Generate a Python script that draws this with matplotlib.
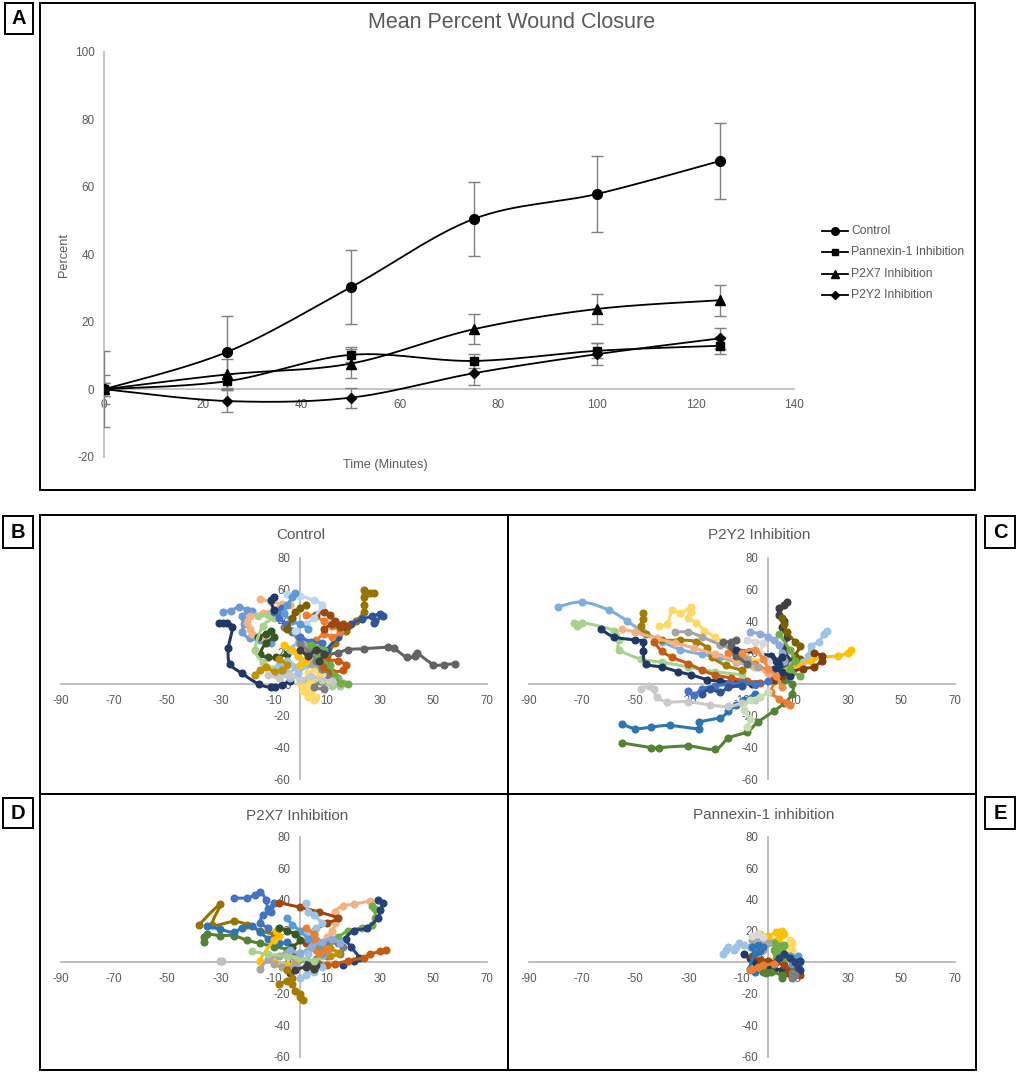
import numpy as np
import matplotlib
matplotlib.use("Agg")
import matplotlib.pyplot as plt
from matplotlib.patches import Rectangle

plt.rcParams['font.family'] = ['Liberation Sans', 'DejaVu Sans']
plt.rcParams['axes.unicode_minus'] = False

# ---------------- DATA: panel A ----------------
time_min = [0, 25, 50, 75, 100, 125]
series_names = ["Control", "Pannexin-1 Inhibition", "P2X7 Inhibition", "P2Y2 Inhibition"]
control_mean = [0, 11.1, 30.2, 50.5, 57.9, 67.7]
control_err = [11.2, 10.6, 11.0, 11.0, 11.2, 11.3]
pannexin_mean = [0, 2.4, 10.2, 8.4, 11.4, 12.9]
pannexin_err = [2.0, 2.2, 2.2, 2.0, 2.2, 2.5]
p2x7_mean = [0, 4.4, 7.6, 17.8, 23.8, 26.4]
p2x7_err = [4.3, 4.7, 4.3, 4.4, 4.5, 4.6]
p2y2_mean = [0, -3.5, -2.5, 4.75, 10.4, 15.1]
p2y2_err = [2.0, 3.2, 3.0, 3.5, 3.2, 3.2]
a_xticks = [0, 20, 40, 60, 80, 100, 120, 140]
a_yticks = [-20, 0, 20, 40, 60, 80, 100]

# ---------------- DATA: panels B-E (cell tracks, x/y points) ----------------
track_xticks = [-90, -70, -50, -30, -10, 10, 30, 50, 70]
track_yticks = [-60, -40, -20, 0, 20, 40, 60, 80]
panel_titles = ["Control", "P2Y2 Inhibition", "P2X7 Inhibition", "Pannexin-1 inhibition"]

control_tracks = [
    [(-30.5,39),(-29,39),(-27.5,38.5),(-25.5,36),(-27,23),(-26.5,13),(-22,7),(-15.5,0),(-11,-2),(-9.5,-2),(-7,-0.5),(-4,2)],
    [(3,26),(6,21),(10,19),(14,20),(18,22),(24,22.5),(33,23.5),(35,23),(40,17),(43,18),(44,19.5),(50,12.5),(54,12.5),(58,13)],
    [(7,10),(10,18),(13,26),(17,34),(21,40),(24,46),(24,50),(24,55),(24,59.5),(26,58),(27.5,58)],
    [(10,22),(14,30),(19,38),(23,41),(27,43),(30,44.5),(31,43),(28,40),(27.5,38.5)],
    [(-29,46),(-26,46.5),(-23,49),(-20,47),(-18,46.5),(-22,43),(-21,38),(-22,33),(-19,29),(-15,28),(-11,26)],
    [(-15,54),(-11,52),(-7,51),(-4,50),(-8,48),(-14,45),(-19,43),(-20,39),(-19,35),(-18,32),(-14,30)],
    [(2,44),(5,43),(9,40),(12,37),(15,33),(12,30),(9,32),(6,28),(3,26)],
    [(6,44),(9,46),(11,44),(13,40),(16,38),(18,37),(15,36),(12,38),(9,35)],
    [(-16,30),(-13,32),(-11,34),(-10,30),(-13,26),(-15,19),(-12,17),(-9,17),(-5,19)],
    [(-16,43),(-12,44),(-10,42),(-14,37),(-17,22),(-14,14),(-10,10),(-5,7),(2,3),(8,1),(12,-1),(15,-1)],
    [(0,1),(1,-4),(3,-8),(5,-10),(6,-8),(4,-5),(2,-2),(4,2),(7,5),(9,8),(6,10),(3,7)],
    [(-8,12),(-5,15),(-2,11),(-5,7),(-8,8),(-4,4),(-1,7),(2,12),(-1,18),(-4,22),(-1,26)],
    [(0,30),(3,25),(6,18),(4,13),(8,10),(11,7),(14,4),(16,1)],
    [(-6,36),(-3,33),(0,26),(3,21),(6,15),(8,10),(11,6),(8,2),(5,-2),(9,-3)],
    [(-17,6),(-15,9),(-13,11),(-10,8),(-7,9),(-5,12),(-8,16)],
    [(-10,46),(-7,48),(-8,42),(-5,38),(-3,34),(0,30),(4,27),(8,26)],
    [(-5,57),(0,56),(5,53),(8,50),(5,42),(2,38),(-2,34)],
    [(10,15),(14,15),(17,12),(16,9),(12,8),(9,11)],
    [(4,25),(9,22),(7,18),(11,12),(13,5),(15,1),(18,0)],
    [(-2,58),(-3,55),(-5,50),(-6,45),(-3,40),(0,38),(3,35)],
    [(-6,25),(-3,22),(-1,18),(2,15),(0,12)],
    [(-10,47),(-11,53),(-10,55)],
    [(-12,6),(-8,4),(-4,6),(0,3),(4,5),(8,3),(12,2)],
    [(-5,35),(-3,42),(-2,46),(0,48),(2,50)],
    [(0,22),(3,18),(6,22),(9,19),(7,15)],
]

p2y2_tracks = [
    [(-79,49),(-70,52),(-60,47),(-53,40),(-47,33),(-40,27),(-33,22),(-25,19),(-18,17),(-12,14),(-6,12)],
    [(-73,39),(-72,37),(-70,39),(-58,34),(-56,28),(-56,22),(-48,16),(-40,14),(-30,11),(-20,8),(-10,6)],
    [(-63,35),(-58,30),(-50,28),(-47,27),(-47,21),(-46,13),(-40,11),(-34,8),(-29,6),(-23,3),(-18,2),(-12,1),(-6,0)],
    [(-55,-25),(-50,-28),(-44,-27),(-37,-26),(-26,-28),(-26,-24),(-18,-21),(-15,-17),(-12,-13),(-9,-10),(-5,-6)],
    [(-55,-37),(-44,-40),(-41,-40),(-30,-39),(-20,-41),(-15,-34),(-8,-30),(-4,-24),(2,-17),(6,-12),(9,-6),(9,0),(6,3)],
    [(-41,37),(-38,38),(-36,47),(-33,45),(-29,49),(-29,46),(-30,42),(-27,39),(-24,34),(-20,30),(-15,25),(-10,20),(-5,15)],
    [(-47,45),(-47,41),(-48,37),(-46,32),(-40,28),(-33,28),(-27,27),(-23,23),(-21,17),(-16,12),(-10,9)],
    [(-48,-3),(-45,-1),(-43,-3),(-42,-8),(-38,-11),(-30,-11),(-22,-13),(-15,-14),(-10,-12),(-5,-10)],
    [(-15,20),(-10,17),(-5,13),(-1,9),(2,2),(1,-5),(4,-9),(7,-12),(8,-13)],
    [(-55,35),(-50,33),(-42,29),(-35,26),(-28,23),(-20,19),(-12,15),(-5,11),(0,7)],
    [(-43,27),(-40,21),(-36,17),(-30,13),(-25,9),(-20,6),(-14,4),(-8,2),(-3,1)],
    [(7,52),(6,50),(4,48),(4,44),(6,40),(5,36),(7,30),(6,22),(8,15),(6,10)],
    [(5,42),(6,38),(7,33),(10,27),(12,24),(10,18),(12,16),(8,12),(5,9)],
    [(22,34),(21,32),(19,27),(16,24),(15,18),(13,14),(9,12),(5,8)],
    [(31,22),(30,20),(26,18),(20,17),(16,15),(11,12),(6,8)],
    [(17,20),(20,18),(20,15),(17,11),(13,10),(9,8),(5,5),(2,3)],
    [(-35,33),(-30,33),(-25,30),(-18,25),(-12,21),(-8,16),(-4,11)],
    [(-30,-4),(-28,-7),(-25,-3),(-20,-1),(-15,0),(-10,1),(-5,0),(0,2)],
    [(-17,27),(-14,27),(-12,28),(-14,24),(-12,18),(-8,13)],
    [(-7,33),(-3,32),(0,30),(2,28),(4,25),(5,20),(6,15)],
    [(-12,22),(1,18),(3,15),(5,17),(4,12),(2,10),(5,8),(8,5)],
    [(-8,28),(-5,27),(-2,26),(-3,20),(0,15)],
    [(-8,-27),(-7,-22),(-9,-16),(-7,-10),(-3,-8),(0,-5)],
    [(-25,-6),(-22,-3),(-18,-5),(-15,-2),(-10,-1)],
    [(4,32),(8,22),(10,15),(8,10),(12,5)],
    [(-10,20),(-5,22),(-2,16),(0,10),(3,5),(5,-2)],
]

p2x7_tracks = [
    [(-38,24),(-30,37),(-33,24),(-25,26),(-20,24),(-15,20),(-10,18)],
    [(-25,41),(-20,41),(-17,43),(-15,45),(-13,40),(-12,34),(-10,38),(-11,32),(-14,30),(-15,25),(-12,22)],
    [(-36,13),(-36,16),(-35,18),(-30,17),(-25,17),(-20,14),(-15,12),(-10,10),(-5,8),(0,2)],
    [(-35,23),(-30,21),(-25,19),(-22,22),(-18,23),(-15,19),(-12,15),(-8,12),(-5,13)],
    [(26,39),(20,37),(16,36),(13,32),(13,25),(12,20),(10,16),(8,12),(5,9)],
    [(27,36),(28,34),(28,28),(27,24),(23,22),(18,20),(14,16),(10,12),(6,9)],
    [(29,40),(31,38),(30,33),(29,28),(25,22),(20,20),(17,15),(19,10),(22,3),(20,1),(16,-2)],
    [(32,8),(30,7),(26,5),(24,3),(18,1),(13,-1),(10,-2),(7,-1)],
    [(-8,38),(0,35),(7,32),(14,28),(10,25),(5,20),(3,15),(2,12)],
    [(2,38),(3,32),(5,30),(8,25),(6,22),(3,18),(5,12),(3,5),(4,-2),(2,-8),(0,-10),(5,-6),(8,-3)],
    [(-9,20),(-8,17),(-10,14),(-15,1),(-10,0),(-5,-2),(-2,0)],
    [(-15,-4),(-12,2),(-8,4),(-5,6),(-2,-2),(-7,-3),(-10,-1)],
    [(10,12),(14,12),(16,10),(15,5),(10,4),(6,2),(3,0)],
    [(-4,-7),(-2,-5),(2,-3),(5,-4),(6,-2),(3,-1)],
    [(8,10),(11,9),(14,6),(11,4),(8,5),(6,8)],
    [(-30,1),(-29.5,1)],
    [(-18,7),(-12,5),(-5,4),(0,3),(5,1),(8,4),(10,8)],
    [(-5,28),(-3,24),(0,20),(3,15),(7,12),(8,5)],
    [(2,22),(5,18),(6,14),(4,10),(7,6),(10,8)],
    [(-8,22),(-5,20),(-2,18),(0,14),(-3,10)],
    [(-5,-5),(-3,-10),(-8,-14),(-5,-12),(-3,-14),(-2,-18),(0,-20),(1,-24),(0,-22)],
    [(-4,8),(0,6),(4,10),(8,13),(12,15),(15,12)],
]

pannexin_tracks = [
    [(-17,5),(-16,8),(-15,10),(-13,8),(-12,10),(-11,12),(-9,11),(-7,10),(-5,8)],
    [(-3,18),(0,17),(3,19),(5,20),(6,18),(4,15),(0,14),(-2,12)],
    [(8,14),(9,12),(8,10),(9,8),(8,5),(7,3)],
    [(2,12),(6,11),(5,8),(4,5),(6,3),(3,2),(2,8),(4,10)],
    [(-9,5),(-7,3),(-5,0),(-3,-2),(0,-3),(2,-4),(5,-5),(8,-6),(10,-7)],
    [(-6,4),(-3,2),(0,1),(3,0),(6,-2),(8,-4),(10,-6),(12,-8),(9,-9),(7,-7)],
    [(10,2),(12,0),(11,-2),(9,-1),(10,3),(8,4),(11,4)],
    [(-3,-3),(-2,-6),(-1,-7),(1,-6),(-2,-5),(5,-8),(5,-10)],
    [(-6,14),(-4,16),(-2,15),(0,12),(-2,8),(-4,6)],
    [(-6,10),(-4,11),(-2,10),(-3,7),(-5,6),(-7,-4),(-5,-6)],
    [(-6,-4),(-4,-3),(-7,-5),(-2,-2),(2,-1)],
    [(10,0),(12,1),(11,-3),(12,-5),(8,3),(6,5),(4,3)],
    [(-6,17),(-4,18),(-2,16)],
    [(9,-10),(10,-8),(9,-7)],
]

# ---------------- STYLE ----------------
txt = "#595959"
axis_gray = "#BFBFBF"
control_colors = ["#203864", "#636363", "#997300", "#2F5597", "#6E9BD8", "#F4B183", "#ED7D31",
                  "#9E480E", "#385723", "#A9D18E", "#FFD966", "#9DC3E6", "#A5A5A5", "#7F7F7F",
                  "#BF9000", "#4472C4", "#BDD7EE", "#C55A11", "#70AD47", "#5B9BD5", "#FFC000",
                  "#1F3864", "#C9C9C9", "#7F6000", "#404040"]
p2y2_colors = ["#7CAFDD", "#A9D18E", "#203864", "#2E75B6", "#548235", "#FFD966", "#A57C00",
               "#C9C9C9", "#ED7D31", "#F4B183", "#C55A11", "#404040", "#7F6000", "#9DC3E6",
               "#FFC000", "#843C0C", "#A5A5A5", "#4472C4", "#636363", "#8FAADC", "#1F3864",
               "#D9D9D9", "#C5E0B4", "#2F5597", "#70AD47", "#F08C45"]
p2x7_colors = ["#997300", "#4472C4", "#548235", "#2E75B6", "#F4B183", "#70AD47", "#264478",
               "#C55A11", "#9E480E", "#9DC3E6", "#FFC000", "#A5A5A5", "#7F7F7F", "#404040",
               "#BF9000", "#BFBFBF", "#A9D18E", "#5B9BD5", "#ED7D31", "#385723", "#A57C00",
               "#8FAADC"]
pannexin_colors = ["#9DC3E6", "#FFC000", "#FFD966", "#70AD47", "#203864", "#9E480E", "#5B9BD5",
                   "#548235", "#A5A5A5", "#2E75B6", "#ED7D31", "#264478", "#D9D9D9", "#7F7F7F"]

W, H = 1017, 1073
fig = plt.figure(figsize=(W / 100, H / 100), dpi=100)


def px_axes(x0, y0, x1, y1):
    return fig.add_axes([x0 / W, 1 - y1 / H, (x1 - x0) / W, (y1 - y0) / H])


def smooth(xs, ys, n=14):
    P = np.column_stack([xs, ys]).astype(float)
    if len(P) < 3:
        return P[:, 0], P[:, 1]
    Pm = np.vstack([P[0], P, P[-1]])
    out = []
    t = np.linspace(0, 1, n, endpoint=False)[:, None]
    for i in range(len(P) - 1):
        p0, p1, p2, p3 = Pm[i], Pm[i + 1], Pm[i + 2], Pm[i + 3]
        c1 = p1 + (p2 - p0) / 6
        c2 = p2 - (p3 - p1) / 6
        seg = (1 - t) ** 3 * p1 + 3 * (1 - t) ** 2 * t * c1 + 3 * (1 - t) * t ** 2 * c2 + t ** 3 * p2
        out.append(seg)
    out.append(P[-1:])
    out = np.vstack(out)
    return out[:, 0], out[:, 1]


# ---------------- Panel A ----------------
axA = px_axes(104.3, 52, 794, 456.7)
axA.set_xlim(0, 140)
axA.set_ylim(-20, 100)
for s in ["top", "right"]:
    axA.spines[s].set_visible(False)
axA.spines["bottom"].set_position(("data", 0))
for s in ["bottom", "left"]:
    axA.spines[s].set_color(axis_gray)
    axA.spines[s].set_linewidth(1.3)
axA.set_xticks(a_xticks)
axA.set_yticks(a_yticks)
axA.tick_params(axis="x", length=0, pad=7, labelsize=8.5, labelcolor=txt)
axA.tick_params(axis="y", length=0, pad=7, labelsize=8.5, labelcolor=txt)
axA.patch.set_alpha(0)

means = [control_mean, pannexin_mean, p2x7_mean, p2y2_mean]
errs = [control_err, pannexin_err, p2x7_err, p2y2_err]
markers = ["o", "s", "^", "D"]
msizes = [7, 6, 7, 4.8]
for m, e, mk, ms in zip(means, errs, markers, msizes):
    axA.errorbar(time_min, m, yerr=e, fmt="none", ecolor="#7F7F7F", elinewidth=1.0,
                 capsize=4.5, capthick=1.0, zorder=3)
    sx, sy = smooth(time_min, m, n=30)
    axA.plot(sx, sy, color="black", lw=1.3, zorder=4)
    axA.plot(time_min, m, linestyle="none", marker=mk, ms=ms, color="black", zorder=5)

# ---------------- Panels B-E ----------------
panel_boxes = [
    (60.7, 557.7, 486.7, 779.3),
    (528.7, 557.7, 954.7, 779.3),
    (60.7, 836.7, 486.7, 1056.5),
    (528.7, 836.7, 954.7, 1056.5),
]
all_tracks = [control_tracks, p2y2_tracks, p2x7_tracks, pannexin_tracks]
all_colors = [control_colors, p2y2_colors, p2x7_colors, pannexin_colors]

for box, tracks, cols in zip(panel_boxes, all_tracks, all_colors):
    ax = px_axes(*box)
    ax.set_xlim(-90, 70)
    ax.set_ylim(-60, 80)
    ax.patch.set_alpha(0)
    for s in ["top", "right"]:
        ax.spines[s].set_visible(False)
    ax.spines["bottom"].set_position(("data", 0))
    ax.spines["left"].set_position(("data", 0))
    for s in ["bottom", "left"]:
        ax.spines[s].set_color(axis_gray)
        ax.spines[s].set_linewidth(1.4)
        ax.spines[s].set_zorder(0.5)
    ax.set_xticks(track_xticks)
    ax.set_yticks(track_yticks)
    ax.tick_params(axis="x", length=0, pad=8, labelsize=8.3, labelcolor=txt)
    ax.tick_params(axis="y", length=0, pad=7, labelsize=8.3, labelcolor=txt)
    for i, tr in enumerate(tracks):
        c = cols[i % len(cols)]
        xs = [p[0] for p in tr]
        ys = [p[1] for p in tr]
        sx, sy = smooth(xs, ys)
        ax.plot(sx, sy, color=c, lw=2.2, zorder=3 + i * 0.01, solid_capstyle="round")
        ax.plot(xs, ys, linestyle="none", marker="o", ms=4.8, color=c, zorder=3 + i * 0.01)

# ---------------- Overlay: frames, labels, titles, legend ----------------
ov = fig.add_axes([0, 0, 1, 1])
ov.set_xlim(0, W)
ov.set_ylim(H, 0)
ov.axis("off")
ov.patch.set_alpha(0)

frames = [(40, 3, 975, 490), (40, 515, 508, 794), (508, 515, 976, 794),
          (40, 794, 508, 1070), (508, 794, 976, 1070)]
for x0, y0, x1, y1 in frames:
    ov.add_patch(Rectangle((x0, y0), x1 - x0, y1 - y0, fill=False, ec="black", lw=1.4))

labels = [("A", 5, 3, 33, 34), ("B", 3, 516, 33, 548), ("C", 985, 516, 1015, 548),
          ("D", 3, 798, 33, 828), ("E", 985, 797, 1015, 829)]
for lab, x0, y0, x1, y1 in labels:
    ov.add_patch(Rectangle((x0, y0), x1 - x0, y1 - y0, fill=True, fc="white", ec="black", lw=1.4))
    ov.text((x0 + x1) / 2, (y0 + y1) / 2 + 0.5, lab, ha="center", va="center",
            fontsize=14.5, fontweight="bold", color="black")

ov.text(512, 22, "Mean Percent Wound Closure", ha="center", va="center", fontsize=15.5, color=txt)
ov.text(385, 465, "Time (Minutes)", ha="center", va="center", fontsize=9.2, color=txt)
ov.text(64, 255, "Percent", ha="center", va="center", rotation=90, fontsize=9.2, color=txt)

title_pos = [(300.7, 535), (759, 535), (296.7, 816), (764, 815)]
for (tx, ty), t in zip(title_pos, panel_titles):
    ov.text(tx, ty, t, ha="center", va="center", fontsize=11, color=txt)

leg_y = [230.7, 252, 273.7, 294.7]
leg_ms = [5.5, 5, 5.5, 4]
for name, mk, ms, ly in zip(series_names, markers, leg_ms, leg_y):
    ov.plot([822, 848], [ly, ly], color="black", lw=1.3)
    ov.plot([835], [ly], marker=mk, ms=ms, color="black", linestyle="none")
    ov.text(851, ly, name, ha="left", va="center", fontsize=8.7, color=txt)

fig.savefig("out.png", dpi=100)
